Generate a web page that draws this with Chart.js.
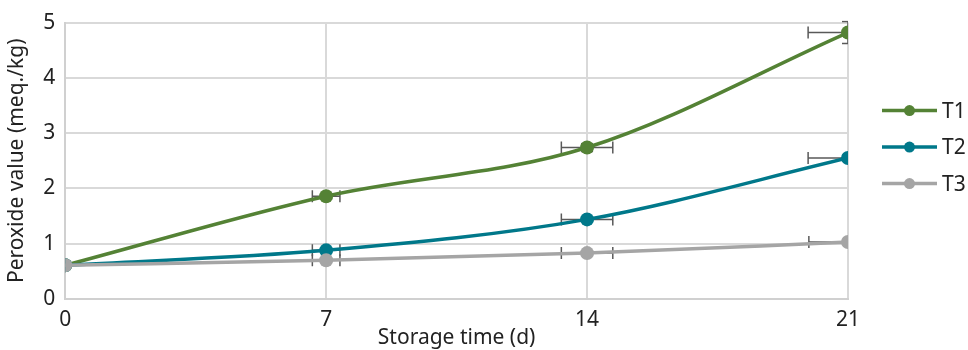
<!DOCTYPE html>
<html>
<head>
<meta charset="utf-8">
<script src="https://cdn.jsdelivr.net/npm/chart.js@4"></script>
<style>
  html, body { margin: 0; padding: 0; background: #fff; }
  #wrap { width: 968px; height: 350px; }
</style>
</head>
<body>
<div id="wrap"><canvas id="peroxideChart"></canvas></div>
<script>
// Storage days and peroxide values
const days = [0, 7, 14, 21];
const t1 = [0.61, 1.86, 2.74, 4.82];
const t2 = [0.61, 0.88, 1.44, 2.55];
const t3 = [0.61, 0.70, 0.83, 1.03];

// error bars (x in days, y in meq./kg)
const t1XErr = [0, 0.37, 0.69, 1.07];
const t2XErr = [0, 0.37, 0.69, 1.07];
const t3XErr = [0, 0.37, 0.69, 1.05];
const t1YErr = [0, 0.05, 0.07, 0.2];
const t2YErr = [0, 0.03, 0.03, 0.05];
const t3YErr = [0, 0.03, 0.03, 0.03];

const seriesNames = ['T1', 'T2', 'T3'];
const colors = ['#548235', '#00788a', '#a5a5a5'];

function toPoints(vals) {
  return days.map((d, i) => ({ x: d, y: vals[i] }));
}

// drawn under the lines and markers, like the original
const errBars = {
  id: 'errBars',
  beforeDatasetsDraw(chart) {
    const { ctx, chartArea, scales } = chart;
    ctx.save();
    ctx.beginPath();
    ctx.rect(chartArea.left, chartArea.top - 2, chartArea.right - chartArea.left, chartArea.bottom - chartArea.top + 4);
    ctx.clip();
    ctx.strokeStyle = '#595959';
    ctx.lineWidth = 1.5;
    chart.data.datasets.forEach(ds => {
      ds.data.forEach((p, i) => {
        const cx = scales.x.getPixelForValue(p.x);
        const cy = scales.y.getPixelForValue(p.y);
        const xe = ds.xErr[i], ye = ds.yErr[i];
        if (xe > 0) {
          const l = scales.x.getPixelForValue(p.x - xe);
          const r = scales.x.getPixelForValue(p.x + xe);
          ctx.beginPath();
          ctx.moveTo(l, cy); ctx.lineTo(r, cy);
          ctx.moveTo(l, cy - 6); ctx.lineTo(l, cy + 6);
          ctx.moveTo(r, cy - 6); ctx.lineTo(r, cy + 6);
          ctx.stroke();
        }
        if (ye > 0) {
          const t = scales.y.getPixelForValue(p.y + ye);
          const b = scales.y.getPixelForValue(p.y - ye);
          ctx.beginPath();
          ctx.moveTo(cx, t); ctx.lineTo(cx, b);
          ctx.moveTo(cx - 6, t); ctx.lineTo(cx + 6, t);
          ctx.moveTo(cx - 6, b); ctx.lineTo(cx + 6, b);
          ctx.stroke();
        }
      });
    });
    ctx.restore();
  }
};

// legend on the right: line with a dot, then the name (T1 on top)
const sideLegend = {
  id: 'sideLegend',
  afterDraw(chart) {
    const { ctx, chartArea } = chart;
    const x0 = chartArea.right + 34;
    const items = chart.data.datasets.slice().reverse();
    ctx.save();
    ctx.font = '21px "Noto Sans"';
    ctx.textBaseline = 'middle';
    items.forEach((ds, i) => {
      const y = chartArea.top + 88 + i * 36.5;
      ctx.strokeStyle = ds.borderColor;
      ctx.lineWidth = 3.5;
      ctx.beginPath(); ctx.moveTo(x0, y); ctx.lineTo(x0 + 55, y); ctx.stroke();
      ctx.fillStyle = ds.borderColor;
      ctx.beginPath(); ctx.arc(x0 + 27.5, y, 5.5, 0, Math.PI * 2); ctx.fill();
      ctx.fillStyle = '#222';
      ctx.fillText(ds.label, x0 + 60, y + 1);
    });
    ctx.restore();
  }
};

const allVals = [t1, t2, t3];
const xErrs = [t1XErr, t2XErr, t3XErr];
const yErrs = [t1YErr, t2YErr, t3YErr];

const ctx = document.getElementById('peroxideChart').getContext('2d');
const peroxideChart = new Chart(ctx, {
  type: 'line',
  data: {
    // reversed so T3 is painted on top, like the original
    datasets: seriesNames.map((name, k) => ({
      label: name,
      data: toPoints(allVals[k]),
      xErr: xErrs[k],
      yErr: yErrs[k],
      borderColor: colors[k],
      backgroundColor: colors[k],
      borderWidth: 3.5,
      pointRadius: 7,
      pointHoverRadius: 7,
      pointBorderWidth: 0,
      tension: 0.4,
      cubicInterpolationMode: 'monotone'
    })).reverse()
  },
  options: {
    responsive: true,
    maintainAspectRatio: false,
    animation: false,
    layout: { padding: { top: 9, right: 120, bottom: 0, left: 4 } },
    plugins: {
      tooltip: { enabled: false },
      legend: { display: false }
    },
    scales: {
      x: {
        type: 'linear',
        min: 0,
        max: 21,
        ticks: { stepSize: 7, color: '#222', font: { family: 'Noto Sans', size: 21, lineHeight: 1 }, padding: 10.5 },
        grid: { color: '#d9d9d9', lineWidth: 2, drawTicks: false },
        border: { color: '#d0d0d0', width: 2 },
        title: { display: true, text: 'Storage time (d)', color: '#222', font: { family: 'Noto Sans', size: 21, lineHeight: 1 }, padding: { top: -13.5, bottom: 1.5 } }
      },
      y: {
        min: 0,
        max: 5,
        ticks: {
          stepSize: 0.5,
          color: '#222',
          font: { family: 'Noto Sans', size: 21 },
          padding: 10,
          callback: v => Number.isInteger(v) ? v : ''
        },
        grid: { color: '#d9d9d9', lineWidth: 2, drawTicks: false },
        border: { color: '#d0d0d0', width: 2 },
        title: { display: true, text: 'Peroxide value (meq./kg)', color: '#222', font: { family: 'Noto Sans', size: 21 }, padding: { top: 0, bottom: 4 } }
      }
    }
  },
  plugins: [errBars, sideLegend]
});
</script>
</body>
</html>
